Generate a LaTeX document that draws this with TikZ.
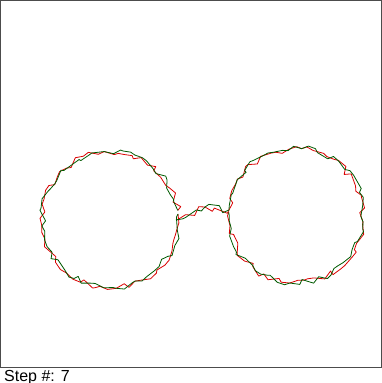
\documentclass[tikz,border=0pt]{standalone}
\usepackage{fontspec}
\setmainfont{Liberation Sans}
\usetikzlibrary{decorations.pathmorphing}

\begin{document}
\begin{tikzpicture}[
    x=1pt, y=-1pt,
    frame/.style={draw=black!70, line width=0.8pt},
    wobble/.style={decorate, decoration={random steps, segment length=6.5pt, amplitude=3.6pt}, line width=0.8pt, line join=round},
    redpass/.style={wobble, red!85!black},
    greenpass/.style={wobble, green!35!black},
    caption/.style={font=\fontsize{16}{16}\selectfont, anchor=base west, inner sep=0pt}
]
\useasboundingbox (0,0) rectangle (382,383);
\draw[frame] (0.5,0.5) rectangle (381.5,367);

% red trace
\pgfmathsetseed{11}
\draw[redpass] (178,214) arc[start angle=-5, end angle=352, radius=68];
\draw[redpass] (176,220) -- (205,207) -- (229,210);
\draw[redpass] (229,210) arc[start angle=185, end angle=543, radius=67];

% green trace
\pgfmathsetseed{23}
\draw[greenpass] (178,214) arc[start angle=-5, end angle=352, radius=68];
\draw[greenpass] (176,220) -- (205,207) -- (229,210);
\draw[greenpass] (229,210) arc[start angle=185, end angle=543, radius=67];

\node[caption] (step) at (4,381) {Step \#: 7};
\end{tikzpicture}
\end{document}
